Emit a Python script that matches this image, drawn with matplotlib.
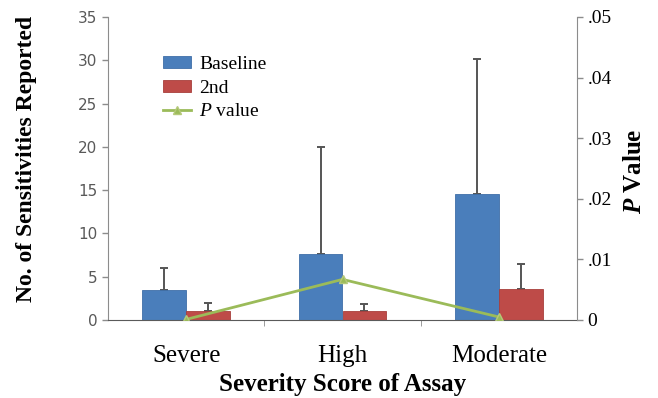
import numpy as np
from matplotlib import pyplot as plt
from matplotlib.ticker import FuncFormatter

categories = ['Severe', 'High', 'Moderate']
baseline = [3.5, 7.6, 14.6]
baseline_err = [2.5, 12.4, 15.6]
second = [1.0, 1.0, 3.6]
second_err = [1.0, 0.9, 2.9]
p_values = [0.0001, 0.0067, 0.0005]

blue = '#4a7ebb'
red = '#be4b48'
green = '#9bbb59'
serif = ['Liberation Serif', 'DejaVu Serif']

plt.rcParams['mathtext.fontset'] = 'custom'
plt.rcParams['mathtext.rm'] = 'Liberation Serif'
plt.rcParams['mathtext.it'] = 'Liberation Serif:italic'
plt.rcParams['mathtext.bf'] = 'Liberation Serif:bold'
plt.rcParams['mathtext.bfit'] = 'Liberation Serif:bold:italic'

fig = plt.figure(figsize=(6.58, 3.98), dpi=100)
ax = fig.add_axes([108 / 658, 78 / 398, 469 / 658, 303 / 398])

x = np.arange(len(categories))
width = 0.28
b1 = ax.bar(x - width / 2, baseline, width, color=blue, edgecolor='#3f6fa8',
            linewidth=0.6, label='Baseline', zorder=2)
b2 = ax.bar(x + width / 2, second, width, color=red, edgecolor='#a83f3c',
            linewidth=0.6, label='2nd', zorder=2)
ax.errorbar(x - width / 2, baseline, yerr=[np.zeros(3), baseline_err], fmt='none',
            ecolor='#555555', elinewidth=1.4, capsize=3, capthick=1.4, zorder=1)
ax.errorbar(x + width / 2, second, yerr=[np.zeros(3), second_err], fmt='none',
            ecolor='#555555', elinewidth=1.4, capsize=3, capthick=1.4, zorder=1)

ax.set_xlim(-0.5, 2.5)
ax.set_ylim(0, 35)
ax.set_yticks(range(0, 36, 5))
ax.tick_params(axis='y', colors='#8c8c8c', labelcolor='#595959', labelsize=11,
               length=4, width=1)
ax.set_xticks(x)
ax.set_xticklabels(categories, fontfamily=serif, fontsize=18)
ax.tick_params(axis='x', length=0, pad=18)
ax.set_xticks([0.5, 1.5], minor=True)
ax.tick_params(axis='x', which='minor', length=4, color='#8c8c8c')
for s in ['top', 'right']:
    ax.spines[s].set_visible(False)
ax.spines['left'].set_color('#8c8c8c')
ax.spines['bottom'].set_color('#5a5a5a')
ax.set_xlabel('Severity Score of Assay', fontfamily=serif, fontsize=18,
              fontweight='bold', labelpad=4)
ax.set_ylabel('No. of Sensitivities Reported', fontfamily=serif, fontsize=17,
              fontweight='bold')
ax.yaxis.set_label_coords(-0.152, 0.53)

ax2 = ax.twinx()
line, = ax2.plot(x, p_values, color=green, lw=2, marker='^', markersize=6,
                 markerfacecolor=green, markeredgecolor='#b5c97a', label='$P$ value')
ax2.set_ylim(0, 0.05)
ax2.set_yticks(np.arange(0, 0.051, 0.01))
ax2.yaxis.set_major_formatter(FuncFormatter(
    lambda v, p: '0' if abs(v) < 1e-9 else ('%.2f' % v)[1:]))
ax2.tick_params(axis='y', colors='#8c8c8c', labelcolor='black', labelsize=14,
                length=4, width=1, labelfontfamily='Liberation Serif')
for s in ['top', 'left', 'bottom']:
    ax2.spines[s].set_visible(False)
ax2.spines['right'].set_color('#8c8c8c')
ax2.set_ylabel('$\\mathbfit{P}$ Value', fontfamily=serif, fontsize=18,
               fontweight='bold')
ax2.yaxis.set_label_coords(1.098, 0.49)

ax.legend(handles=[b1, b2, line], loc='upper left', bbox_to_anchor=(0.08, 0.93),
          frameon=False, prop={'family': serif, 'size': 14}, handlelength=1.45,
          handleheight=0.6, labelspacing=0.35, handletextpad=0.4)

fig.savefig('out.png', dpi=100)
